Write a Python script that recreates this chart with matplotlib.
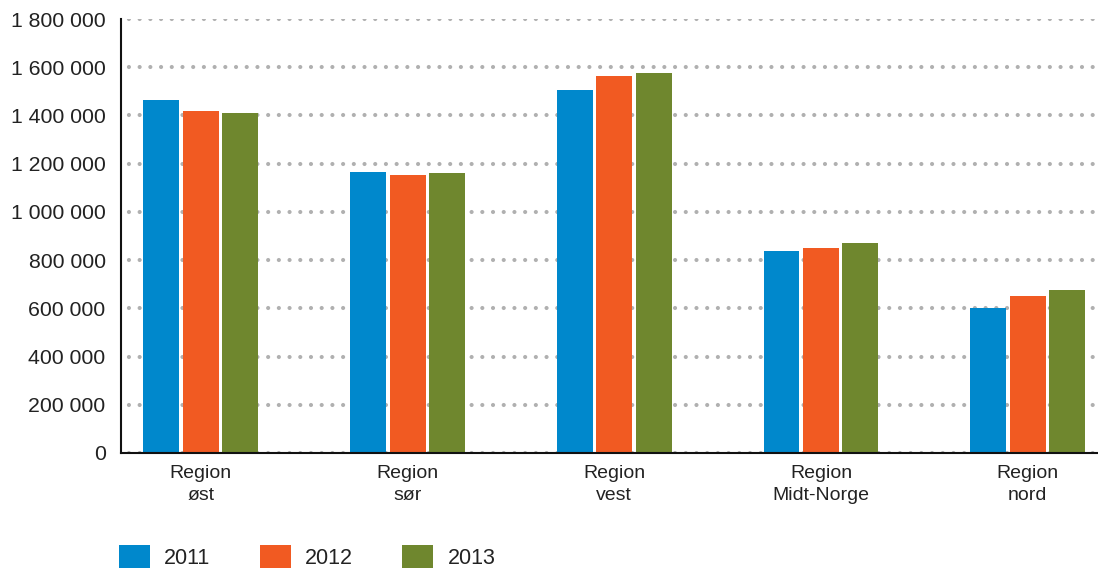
import matplotlib.pyplot as plt
import numpy as np
from matplotlib.patches import Patch
from matplotlib.ticker import FuncFormatter

plt.rcParams['font.family'] = ['Liberation Sans', 'DejaVu Sans']
plt.rcParams['lines.scale_dashes'] = False

regioner = ["Region\nøst", "Region\nsør", "Region\nvest", "Region\nMidt-Norge", "Region\nnord"]
aar = ["2011", "2012", "2013"]
verdier_2011 = [1464000, 1165000, 1506000, 838000, 601000]
verdier_2012 = [1419000, 1153000, 1564000, 850000, 651000]
verdier_2013 = [1410000, 1161000, 1576000, 871000, 676000]
farger = ["#0088cc", "#f15a22", "#6f872e"]

fig = plt.figure(figsize=(10.98, 5.71), dpi=100)
ax = fig.add_axes([0.110, 0.2067, 0.890, 0.760])

x = np.arange(len(regioner))
bredde = 0.174
steg = 0.191
for i, serie in enumerate([verdier_2011, verdier_2012, verdier_2013]):
    ax.bar(x + (i - 1) * steg, serie, width=bredde, color=farger[i], zorder=3)

ax.set_ylim(0, 1800000)
ax.set_xlim(-0.387, 4.34)
ax.set_yticks(np.arange(0, 1800001, 200000))
ax.yaxis.set_major_formatter(FuncFormatter(lambda v, p: f"{int(v):,}".replace(",", " ")))
ax.set_xticks(x)
ax.set_xticklabels(regioner, linespacing=1.35)

ax.tick_params(axis='y', length=0, pad=11, labelsize=15.3, labelcolor="#222222")
ax.tick_params(axis='x', length=0, pad=9, labelsize=14, labelcolor="#222222")

# prikkete hjelpelinjer
ax.grid(axis='y', color="#b0b0b0", linewidth=3.0, linestyle=(2, (0.01, 7.7)),
        dash_capstyle='round', zorder=1)
ax.grid(axis='x', visible=False)
ax.set_axisbelow(True)

for side in ['top', 'right']:
    ax.spines[side].set_visible(False)
for side in ['left', 'bottom']:
    ax.spines[side].set_linewidth(1.5)
    ax.spines[side].set_color("#111111")
    ax.spines[side].set_zorder(4)

handles = [Patch(facecolor=c, edgecolor='none', label=a) for c, a in zip(farger, aar)]
fig.legend(handles=handles, loc='center left', bbox_to_anchor=(0.108, 0.025),
           ncol=3, frameon=False, fontsize=15.5, handlelength=1.45, handleheight=1.3,
           handletextpad=0.65, columnspacing=2.3, borderpad=0, borderaxespad=0,
           labelcolor="#222222")

fig.savefig("out.png", dpi=100)
